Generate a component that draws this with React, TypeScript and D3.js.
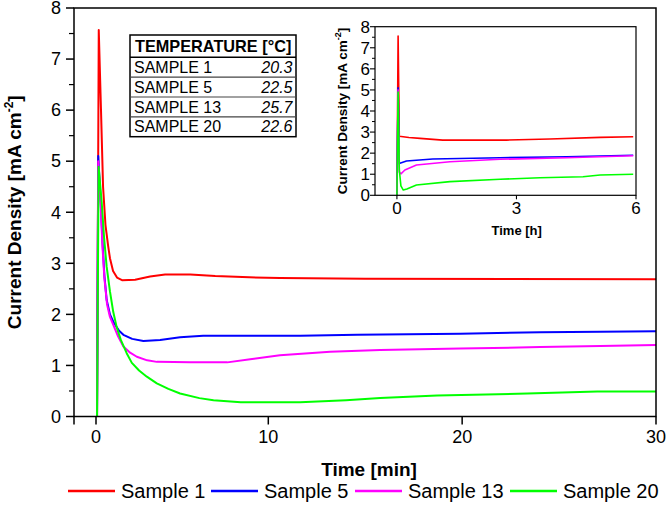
import React from "react";
import * as d3 from "d3";

const FONT = "'Liberation Sans', Arial, Helvetica, sans-serif";

const seriesNames = ["Sample 1", "Sample 5", "Sample 13", "Sample 20"];
const seriesColors = ["#ff0000", "#0000ff", "#ff00ff", "#00ff00"];

const tableSamples = ["SAMPLE 1", "SAMPLE 5", "SAMPLE 13", "SAMPLE 20"];
const tableTemps = ["20.3", "22.5", "25.7", "22.6"];

const mainXTicks = [0, 10, 20, 30];
const mainYTicks = [0, 1, 2, 3, 4, 5, 6, 7, 8];
const insetXTicks = [0, 3, 6];
const insetYTicks = [0, 1, 2, 3, 4, 5, 6, 7, 8];

// main plot: time [min], current density [mA cm-2]
const sample1Main: [number, number][] = [
  [0.06, 0], [0.16, 7.57], [0.29, 6.0], [0.41, 4.5], [0.55, 3.75], [0.7, 3.35], [0.81, 3.1],
  [0.99, 2.85], [1.22, 2.72], [1.51, 2.67], [2.27, 2.68], [3.14, 2.74], [4.01, 2.78], [5.47, 2.78],
  [6.92, 2.75], [8.5, 2.73], [10.6, 2.71], [15, 2.7], [30, 2.69],
];
const sample5Main: [number, number][] = [
  [0.06, 0], [0.13, 5.1], [0.26, 4.3], [0.38, 3.4], [0.49, 2.75], [0.62, 2.28], [0.81, 2.0],
  [1.01, 1.85], [1.34, 1.68], [1.59, 1.6], [2.1, 1.52], [2.75, 1.48], [3.72, 1.5], [4.88, 1.55],
  [6.22, 1.58], [11.64, 1.58], [14.58, 1.6], [19.9, 1.62], [24.03, 1.65], [27.13, 1.66], [30, 1.67],
];
const sample13Main: [number, number][] = [
  [0.06, 0], [0.13, 5.0], [0.26, 4.2], [0.38, 3.3], [0.49, 2.7], [0.64, 2.2], [0.81, 1.95],
  [1.01, 1.79], [1.28, 1.57], [1.59, 1.37], [1.98, 1.25], [2.37, 1.17], [2.97, 1.1], [3.53, 1.07],
  [5.47, 1.06], [7.62, 1.06], [8.95, 1.12], [10.6, 1.2], [13.19, 1.27], [15.77, 1.3], [19.9, 1.33],
  [24.03, 1.36], [27.13, 1.38], [30, 1.4],
];
const sample20Main: [number, number][] = [
  [0.06, 0], [0.15, 4.89], [0.33, 4.2], [0.47, 3.5], [0.62, 2.93], [0.81, 2.45], [1.0, 2.05],
  [1.2, 1.75], [1.44, 1.5], [1.78, 1.24], [2.08, 1.05], [2.5, 0.9], [2.95, 0.78], [3.53, 0.65],
  [4.2, 0.54], [4.88, 0.45], [6.0, 0.36], [6.82, 0.32], [8.4, 0.28], [11.64, 0.28], [14.01, 0.32],
  [15.77, 0.36], [18.71, 0.41], [23.36, 0.45], [26.97, 0.49], [30, 0.49],
];

// inset: time [h]
const sample1Inset: [number, number][] = [
  [0, 0], [0.03, 7.56], [0.06, 2.8], [0.3, 2.74], [0.58, 2.7], [1.15, 2.62], [2.75, 2.62],
  [3.84, 2.67], [5.1, 2.75], [5.93, 2.78],
];
const sample5Inset: [number, number][] = [
  [0, 0], [0.03, 5.1], [0.06, 1.5], [0.075, 1.52], [0.24, 1.63], [0.9, 1.72], [2.59, 1.78],
  [4.26, 1.83], [5.93, 1.9],
];
const sample13Inset: [number, number][] = [
  [0, 0], [0.03, 5.0], [0.06, 1.1], [0.1, 1.02], [0.2, 1.2], [0.49, 1.44], [1.33, 1.59],
  [2.59, 1.71], [4.26, 1.78], [5.93, 1.88],
];
const sample20Inset: [number, number][] = [
  [0, 0], [0.03, 4.9], [0.06, 1.2], [0.1, 0.45], [0.16, 0.25], [0.25, 0.3], [0.49, 0.49],
  [1.33, 0.65], [2.59, 0.76], [3.59, 0.83], [4.67, 0.88], [5.1, 0.96], [5.93, 1.0],
];

const mainSeries = [sample1Main, sample5Main, sample13Main, sample20Main];
const insetSeries = [sample1Inset, sample5Inset, sample13Inset, sample20Inset];

export default function App() {
  const W = 666, H = 518;
  // main plot geometry
  const L = 74, R = 656, T = 8, B = 416.5;
  const xMain = d3.scaleLinear().domain([-1.28, 0, 10, 30]).range([L, 96, 268.3, R]);
  const yMain = d3.scaleLinear().domain([0, 8]).range([B, T]);
  // inset geometry
  const iL = 375, iR = 636, iT = 26.7, iB = 195.3;
  const xIn = d3.scaleLinear().domain([-0.55, 6]).range([iL, iR]);
  const yIn = d3.scaleLinear().domain([0, 8]).range([iB, iT]);

  const lineMain = d3.line<[number, number]>().x((d) => xMain(d[0])).y((d) => yMain(d[1]));
  const lineIn = d3.line<[number, number]>().x((d) => xIn(d[0])).y((d) => yIn(d[1]));

  const mainMinor = d3.range(0.5, 8, 1);
  const insetMinor = d3.range(0.5, 8, 1);

  const legendX = [68, 211, 355, 510];
  const rowTop = 57.3, rowH = 19.85;

  return (
    <svg
      width={W}
      height={H}
      style={{ position: "absolute", left: 0, top: 0, display: "block", background: "#fff" }}
      fontFamily={FONT}
    >
      <rect x={0} y={0} width={W} height={H} fill="#fff" />

      {/* main curves */}
      {mainSeries.map((s, i) => (
        <path key={"m" + i} d={lineMain(s) || ""} fill="none" stroke={seriesColors[i]} strokeWidth={2} strokeLinejoin="round" />
      ))}

      {/* main frame */}
      <rect x={L} y={T} width={R - L} height={B - T} fill="none" stroke="#000" strokeWidth={1.5} />

      {/* y axis ticks */}
      {mainYTicks.map((t) => (
        <g key={"yt" + t}>
          <line x1={L - 8} x2={L} y1={yMain(t)} y2={yMain(t)} stroke="#000" strokeWidth={1.5} />
          <text x={61} y={yMain(t)} dy="0.35em" textAnchor="end" fontSize={18} fill="#000">{t}</text>
        </g>
      ))}
      {mainMinor.map((t) => (
        <line key={"ym" + t} x1={L - 5} x2={L} y1={yMain(t)} y2={yMain(t)} stroke="#000" strokeWidth={1.2} />
      ))}

      {/* x axis ticks */}
      <line x1={xMain(-1.28)} x2={xMain(-1.28)} y1={B} y2={B + 8} stroke="#000" strokeWidth={1.5} />
      {mainXTicks.map((t) => (
        <g key={"xt" + t}>
          <line x1={xMain(t)} x2={xMain(t)} y1={B} y2={B + 8} stroke="#000" strokeWidth={1.5} />
          <text x={xMain(t)} y={443} textAnchor="middle" fontSize={18} fill="#000">{t}</text>
        </g>
      ))}

      {/* axis titles */}
      <text x={369} y={476} textAnchor="middle" fontSize={19} fontWeight="bold" fill="#000">Time [min]</text>
      <text transform={`translate(21, ${(T + B) / 2}) rotate(-90)`} textAnchor="middle" fontSize={19} fontWeight="bold" fill="#000">
        Current Density [mA cm<tspan fontSize={12} dy={-8}>-2</tspan><tspan dy={8}>]</tspan>
      </text>

      {/* table */}
      <g>
        <rect x={130} y={35} width={166} height={101.7} fill="#fff" stroke="#000" strokeWidth={1.5} />
        <text x={135} y={52} fontSize={16.3} fontWeight="bold" fill="#000">TEMPERATURE [°C]</text>
        <line x1={130} x2={296} y1={rowTop} y2={rowTop} stroke="#000" strokeWidth={1.5} />
        {tableSamples.map((s, i) => (
          <g key={"row" + i}>
            {i > 0 && (
              <line x1={130} x2={296} y1={rowTop + i * rowH} y2={rowTop + i * rowH} stroke="#444" strokeWidth={1.2} />
            )}
            <text x={134} y={rowTop + i * rowH + rowH / 2 + 5.7} fontSize={16} fill="#000">{s}</text>
            <text x={292.5} y={rowTop + i * rowH + rowH / 2 + 5.7} fontSize={16} fontStyle="italic" textAnchor="end" fill="#000">{tableTemps[i]}</text>
          </g>
        ))}
      </g>

      {/* inset */}
      <g>
        <rect x={iL} y={iT} width={iR - iL} height={iB - iT} fill="#fff" />
        {insetSeries.map((s, i) => (
          <path key={"i" + i} d={lineIn(s) || ""} fill="none" stroke={seriesColors[i]} strokeWidth={1.6} strokeLinejoin="round" />
        ))}
        <rect x={iL} y={iT} width={iR - iL} height={iB - iT} fill="none" stroke="#000" strokeWidth={1.2} />
        {insetYTicks.map((t) => (
          <g key={"iyt" + t}>
            <line x1={iL - 5} x2={iL} y1={yIn(t)} y2={yIn(t)} stroke="#000" strokeWidth={1.1} />
            <text x={370} y={yIn(t)} dy="0.35em" textAnchor="end" fontSize={17} fill="#000">{t}</text>
          </g>
        ))}
        {insetMinor.map((t) => (
          <line key={"iym" + t} x1={iL - 3} x2={iL} y1={yIn(t)} y2={yIn(t)} stroke="#000" strokeWidth={1} />
        ))}
        {insetXTicks.map((t) => (
          <g key={"ixt" + t}>
            <line x1={xIn(t)} x2={xIn(t)} y1={iB} y2={iB + 4} stroke="#000" strokeWidth={1.1} />
            <text x={xIn(t)} y={214} textAnchor="middle" fontSize={17} fill="#000">{t}</text>
          </g>
        ))}
        <text x={516.7} y={235} textAnchor="middle" fontSize={13} fontWeight="bold" fill="#000">Time [h]</text>
        <text transform={`translate(346.5, ${(iT + iB) / 2}) rotate(-90)`} textAnchor="middle" fontSize={13.5} fontWeight="bold" fill="#000">
          Current Density [mA cm<tspan fontSize={9} dy={-6}>-2</tspan><tspan dy={6}>]</tspan>
        </text>
      </g>

      {/* legend */}
      {seriesNames.map((n, i) => (
        <g key={"lg" + i}>
          <line x1={legendX[i]} x2={legendX[i] + 47} y1={491} y2={491} stroke={seriesColors[i]} strokeWidth={2.5} />
          <text x={legendX[i] + 53} y={498} fontSize={20} fill="#000">{n}</text>
        </g>
      ))}
    </svg>
  );
}
